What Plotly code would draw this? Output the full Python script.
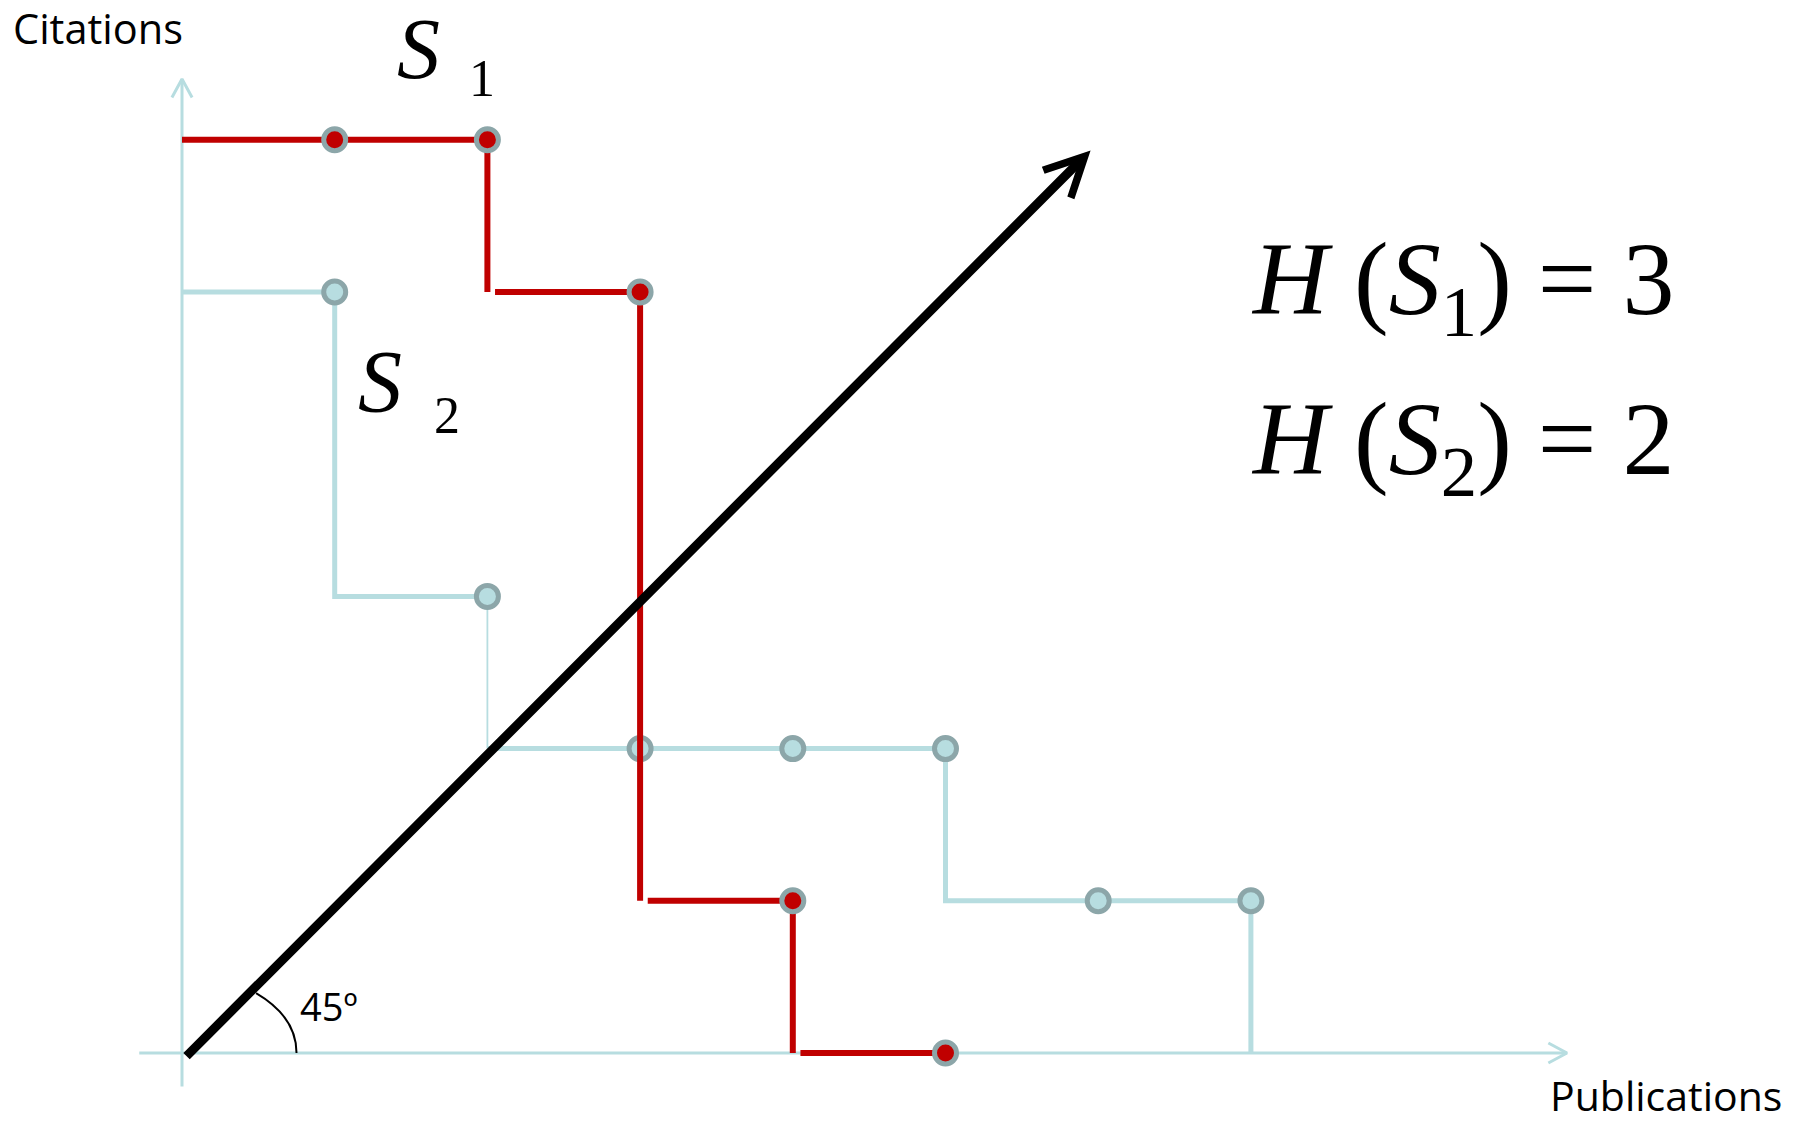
import plotly.graph_objects as go

# ---------------- data ----------------
s1_papers = [1, 2, 3, 4, 5]
s1_citations = [6, 6, 5, 1, 0]
s2_papers = [1, 2, 3, 4, 5, 6, 7]
s2_citations = [5, 3, 2, 2, 2, 1, 1]
x_axis_label = "Publications"
y_axis_label = "Citations"
angle_label = "45º"
series_names = ["1", "2"]


def h_index(cits):
    s = sorted(cits, reverse=True)
    return max([i + 1 for i, v in enumerate(s) if v >= i + 1], default=0)


h1 = h_index(s1_citations)
h2 = h_index(s2_citations)

# ---------------- geometry / style ----------------
W, H = 1796, 1124
ORIGIN_PX = (182, 1053)
UNIT_X, UNIT_Y = 152.7, 152.2
x_range = [-ORIGIN_PX[0] / UNIT_X, (W - ORIGIN_PX[0]) / UNIT_X]
y_range = [-(H - ORIGIN_PX[1]) / UNIT_Y, ORIGIN_PX[1] / UNIT_Y]

RED = "#C00000"
TEAL = "#B7DDE0"
RING = "#8CA6A9"
AXIS = "#B7DDE0"

Y_AXIS = (-0.22, 6.40)
X_AXIS = (-0.28, 9.07)
HEAD_BACK, HEAD_HALF = 0.122, 0.066
ARROW_TAIL = (0.02, -0.03)
ARROW_TIP = (5.95, 5.93)


def P(xp, yp):
    return xp / W, 1 - yp / H


def polylines(xs, ys, to_zero, gap=0.0, thin_drop_at=()):
    main, thin = [], []
    cur = [(0, ys[0])]
    for i, (x, y) in enumerate(zip(xs, ys)):
        cur.append((x, y))
        nxt = ys[i + 1] if i + 1 < len(ys) else (0 if to_zero else None)
        if nxt is None or nxt == y:
            continue
        if x in thin_drop_at:
            main.append(cur)
            thin.append([(x, y), (x, nxt)])
            cur = [(x, nxt)]
        elif gap:
            cur.append((x, nxt))
            main.append(cur)
            cur = [(x + gap, nxt)]
        else:
            cur.append((x, nxt))
    if len(cur) > 1:
        main.append(cur)
    return main, thin


def to_xy(lines):
    xs, ys = [], []
    for ln in lines:
        for (a, b) in ln:
            xs.append(a)
            ys.append(b)
        xs.append(None)
        ys.append(None)
    return xs, ys


fig = go.Figure()

# axes with open arrowheads
ax_lines = [
    [(0, Y_AXIS[0]), (0, Y_AXIS[1])],
    [(-HEAD_HALF, Y_AXIS[1] - HEAD_BACK), (0, Y_AXIS[1]), (HEAD_HALF, Y_AXIS[1] - HEAD_BACK)],
    [(X_AXIS[0], 0), (X_AXIS[1], 0)],
    [(X_AXIS[1] - HEAD_BACK, HEAD_HALF), (X_AXIS[1], 0), (X_AXIS[1] - HEAD_BACK, -HEAD_HALF)],
]
ax_x, ax_y = to_xy(ax_lines)
fig.add_trace(go.Scatter(x=ax_x, y=ax_y, mode="lines",
                         line=dict(color=AXIS, width=3), hoverinfo="skip"))

# S2 step line
s2_main, s2_thin = polylines(s2_papers, s2_citations, to_zero=True, thin_drop_at=(2,))
x2, y2 = to_xy(s2_main)
fig.add_trace(go.Scatter(x=x2, y=y2, mode="lines", line=dict(color=TEAL, width=5),
                         hoverinfo="skip"))
x2t, y2t = to_xy(s2_thin)
fig.add_trace(go.Scatter(x=x2t, y=y2t, mode="lines", line=dict(color=TEAL, width=1.8),
                         hoverinfo="skip"))
fig.add_trace(go.Scatter(x=s2_papers, y=s2_citations, mode="markers",
                         marker=dict(size=22, color=TEAL, line=dict(color=RING, width=5)),
                         hoverinfo="skip"))

# S1 step line
s1_main, _ = polylines(s1_papers, s1_citations, to_zero=True, gap=0.05)
x1, y1 = to_xy(s1_main)
fig.add_trace(go.Scatter(x=x1, y=y1, mode="lines", line=dict(color=RED, width=6),
                         hoverinfo="skip"))
fig.add_trace(go.Scatter(x=s1_papers, y=s1_citations, mode="markers",
                         marker=dict(size=22, color=RED, line=dict(color=RING, width=5)),
                         hoverinfo="skip"))

# 45 degree arc
fig.add_shape(type="path", xref="x", yref="y",
              path="M 0.75,0 Q 0.75,0.238 0.485,0.394",
              line=dict(color="black", width=2))

annotations = [
    # black 45-degree arrow
    dict(x=ARROW_TIP[0], y=ARROW_TIP[1], ax=ARROW_TAIL[0], ay=ARROW_TAIL[1],
         xref="x", yref="y", axref="x", ayref="y", text="", showarrow=True,
         arrowhead=5, arrowsize=0.85, arrowwidth=9, arrowcolor="black", standoff=0),
]

sans = "Open Sans"
serif = "Liberation Serif"


def label(text, xp, yp, size, family, yanchor="middle"):
    x, y = P(xp, yp)
    return dict(x=x, y=y, xref="paper", yref="paper", text=text, showarrow=False,
                xanchor="left", yanchor=yanchor, borderpad=0,
                font=dict(family=family, size=size, color="black"))


annotations += [
    label(y_axis_label, 12, 28, 41.5, sans),
    label(x_axis_label, 1549, H, 41, sans, yanchor="bottom"),
    label(angle_label, 299, 1006, 38, sans),
    label("<i>S</i>", 396, 0, 86, serif, yanchor="top"),
    label(series_names[0], 468, 79, 52, serif),
    label("<i>S</i>", 357, 382, 88, serif),
    label(series_names[1], 433, 415, 52, serif),
    label(f"<i>H</i> (<i>S</i><sub>1</sub>) = {h1}", 1250, 286, 104, serif),
    label(f"<i>H</i> (<i>S</i><sub>2</sub>) = {h2}", 1250, 446, 104, serif),
]

fig.update_layout(
    width=W, height=H, autosize=False,
    margin=dict(l=0, r=0, t=0, b=0, pad=0),
    paper_bgcolor="white", plot_bgcolor="white",
    showlegend=False,
    xaxis=dict(range=x_range, visible=False, fixedrange=True),
    yaxis=dict(range=y_range, visible=False, fixedrange=True),
    annotations=annotations,
)

fig.write_html("out.html", include_plotlyjs=True, config={"displayModeBar": False},
               post_script="document.body.style.margin='0';document.body.style.overflow='hidden';")
